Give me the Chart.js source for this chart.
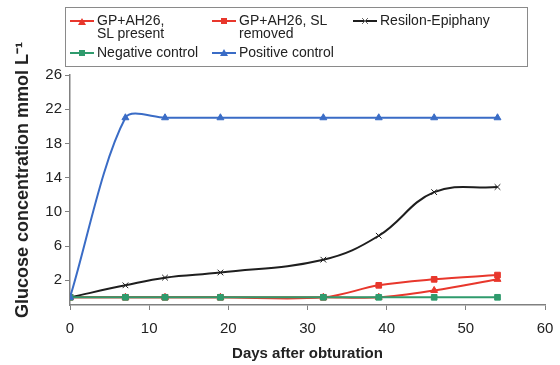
<!DOCTYPE html>
<html>
<head>
<meta charset="utf-8">
<script src="https://cdn.jsdelivr.net/npm/chart.js@4.4.1/dist/chart.umd.min.js"></script>
<style>
  html, body { margin: 0; padding: 0; background: #fff; }
  #wrap { position: relative; width: 560px; height: 365px; }
  #legend {
    position: absolute; left: 65px; top: 7px; width: 463px; height: 60px;
    border: 1px solid #8a8a8a; box-sizing: border-box;
    font-family: "Liberation Sans", Arial, sans-serif; font-size: 14px; color: #222;
  }
  .item { position: absolute; display: flex; align-items: flex-start; line-height: 13px; }
  .item svg { margin-top: 1px; margin-right: 3px; }
</style>
</head>
<body>
<div id="wrap">
  <canvas id="myChart" width="560" height="365"></canvas>
  <div id="legend"></div>
</div>
<script>
// days after obturation
let days = [0, 7, 12, 19, 32, 39, 46, 54];
let slPresent = [0, 0, 0, 0, 0, 0, 0.8, 2.1];
let slRemoved = [0, 0, 0, 0, 0, 1.4, 2.1, 2.6];
let resilon = [0, 1.4, 2.3, 2.9, 4.4, 7.2, 12.3, 12.9];
let negative = [0, 0, 0, 0, 0, 0, 0, 0];
let positive = [0, 21, 21, 21, 21, 21, 21, 21];
let yTicks = [2, 6, 10, 14, 18, 22, 26];
let xTicks = [0, 10, 20, 30, 40, 50, 60];

let labels = ['GP+AH26,\nSL present', 'GP+AH26, SL\nremoved', 'Resilon-Epiphany', 'Negative control', 'Positive control'];

const red = '#e8372c';
const green = '#2f9b6d';
const blue = '#3a6cc6';
const black = '#1e1e1e';

function pts(vals) {
  return days.map((d, i) => ({ x: d, y: vals[i] }));
}

function ds(label, vals, color, style, order, tension) {
  return {
    label: label,
    data: pts(vals),
    borderColor: color,
    backgroundColor: color,
    borderWidth: 2,
    pointStyle: style,
    pointRadius: 4,
    pointBorderWidth: 1,
    tension: tension,
    order: order
  };
}

const mydata = {
  datasets: [
    ds(labels[0], slPresent, red, 'triangle', 4, 0.35),
    ds(labels[1], slRemoved, red, 'rect', 3, 0.35),
    ds(labels[2], resilon, black, 'crossRot', 2, 0.4),
    ds(labels[3], negative, green, 'rect', 1, 0),
    ds(labels[4], positive, blue, 'triangle', 0, 0.3)
  ]
};

const axisColor = '#808080';
const tickFont = { family: '"Liberation Sans", Arial, sans-serif', size: 15 };
const titleFont = { family: '"Liberation Sans", Arial, sans-serif', size: 15, weight: 'bold' };

const myconfig = {
  type: 'line',
  data: mydata,
  options: {
    responsive: false,
    animation: false,
    layout: { padding: { top: 75, right: 15, left: 0, bottom: 0 } },
    plugins: { legend: { display: false }, tooltip: { enabled: false } },
    scales: {
      x: {
        type: 'linear',
        min: 0, max: 60,
        afterBuildTicks: (s) => { s.ticks = xTicks.map(v => ({ value: v })); },
        afterFit: (s) => { s.height = 60; s.paddingRight = 10; },
        grid: { display: true, drawOnChartArea: false, color: axisColor, tickLength: 5 },
        border: { color: axisColor, width: 1.5 },
        ticks: { color: '#222', font: tickFont, padding: 10, maxRotation: 0 },
        title: { display: true, text: 'Days after obturation', color: '#222', font: titleFont, padding: { top: 2, bottom: 2 } }
      },
      y: {
        min: -0.9, max: 26,
        afterBuildTicks: (s) => { s.ticks = yTicks.map(v => ({ value: v })); },
        afterFit: (s) => { s.width = 70; },
        grid: { display: true, drawOnChartArea: false, color: axisColor, tickLength: 5 },
        border: { color: axisColor, width: 1.5 },
        ticks: { color: '#222', font: tickFont, padding: 3 },
        title: {
          display: true,
          text: '    Glucose concentration mmol L\u207B\u00B9',
          color: '#222',
          font: { family: '"Liberation Sans", Arial, sans-serif', size: 18, weight: 'bold' },
          padding: { top: 12, bottom: 0 }
        }
      }
    }
  }
};

const myChart = new Chart(document.getElementById('myChart'), myconfig);

// html legend, two rows like the original
let legend = document.getElementById('legend');
let spots = [[4, 6], [146, 6], [287, 6], [4, 38], [146, 38]];
let marks = [
  '<polygon points="12,3 16,10 8,10" fill="' + red + '"/>',
  '<rect x="9" y="3" width="6" height="6" fill="' + red + '"/>',
  '<path d="M9,3 L15,9 M15,3 L9,9" stroke="#666" stroke-width="1"/>',
  '<rect x="9" y="3" width="6" height="6" fill="' + green + '"/>',
  '<polygon points="12,2 16,9 8,9" fill="' + blue + '"/>'
];
let cols = [red, red, black, green, blue];
labels.forEach((t, i) => {
  let el = document.createElement('div');
  el.className = 'item';
  el.style.left = spots[i][0] + 'px';
  el.style.top = spots[i][1] + 'px';
  el.innerHTML = '<svg width="24" height="12"><line x1="0" y1="6" x2="24" y2="6" stroke="' + cols[i] + '" stroke-width="2"/>' + marks[i] + '</svg>'
    + '<span>' + t.replace('\n', '<br>') + '</span>';
  legend.appendChild(el);
});
</script>
</body>
</html>
